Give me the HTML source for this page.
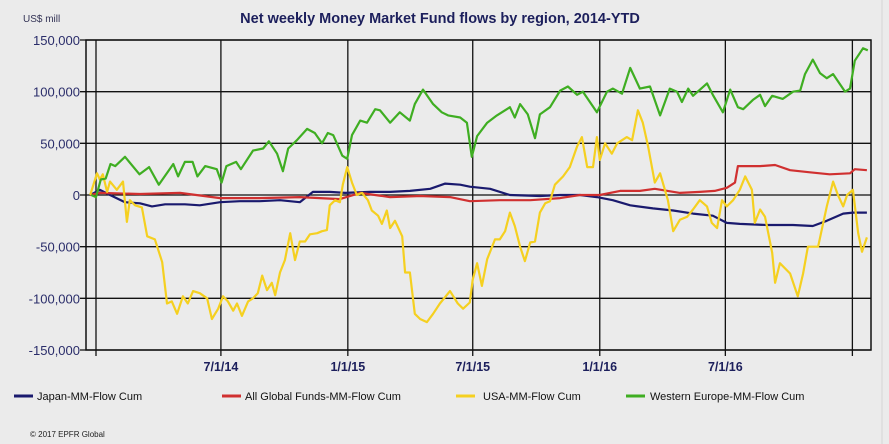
<!DOCTYPE html>
<html><head><meta charset="utf-8"><style>
html,body{margin:0;padding:0;background:#ebebeb;}
body{width:889px;height:444px;overflow:hidden;position:relative;font-family:"Liberation Sans",sans-serif;}
</style></head><body>
<svg id="chart" width="889" height="444" xmlns="http://www.w3.org/2000/svg" style="position:absolute;left:0;top:0">
<rect x="0" y="0" width="889" height="444" fill="#ebebeb"/>
<line x1="882" y1="0" x2="882" y2="444" stroke="#d6d6d6" stroke-width="1"/>
<text x="440" y="23" text-anchor="middle" font-size="14.5" font-weight="bold" fill="#1c1f5c">Net weekly Money Market Fund flows by region, 2014-YTD</text>
<text x="23" y="22" font-size="10" fill="#333355">US$ mill</text>
<g id="grid"></g>
<g id="series"></g>
<g id="axes"></g>
<g>
<g><line x1="14" y1="396" x2="33" y2="396" stroke="#1a1a6e" stroke-width="3"/><text x="37" y="400" font-size="11" fill="#111">Japan-MM-Flow Cum</text></g>
<g><line x1="222" y1="396" x2="241" y2="396" stroke="#d03030" stroke-width="3"/><text x="245" y="400" font-size="11" fill="#111">All Global Funds-MM-Flow Cum</text></g>
<g><line x1="456" y1="396" x2="475" y2="396" stroke="#f5d020" stroke-width="3"/><text x="483" y="400" font-size="11" fill="#111">USA-MM-Flow Cum</text></g>
<g><line x1="626" y1="396" x2="645" y2="396" stroke="#3fae22" stroke-width="3"/><text x="650" y="400" font-size="11" fill="#111">Western Europe-MM-Flow Cum</text></g>
</g>
<text x="30" y="437" font-size="8" fill="#222">© 2017 EPFR Global</text>
</svg>
<script>
const yTicks=[150000,100000,50000,0,-50000,-100000,-150000];
const yTickLabels=["150,000","100,000","50,000","0","-50,000","-100,000","-150,000"];
const xTickWeeks=[0,25.86,52.14,78.0,104.3,130.3,156.6];
const xTickLabels=["","7/1/14","1/1/15","7/1/15","1/1/16","7/1/16",""];

const greenWeeks=[-1,0,1,2,3,4,6,9,11,13,16,17,18.4,20,21,22.6,25,26,27,29,30,32.5,34.6,35.8,37.5,38.7,39.8,41.6,43.7,45.3,46.8,48,49.1,51,52,53,54.7,56.1,57.8,58.8,60.9,62.9,65,66,67.7,69.8,71.6,72.9,75.4,76.8,77.8,78.9,81,83,85.7,86.7,87.8,89.4,90.9,91.9,94,96.1,97.7,99.6,100.8,103.7,105.8,107,108.9,110.6,112.6,114.7,116.8,118.8,120.3,121.3,122.6,123.6,126.5,127.7,129.8,131.3,132.9,134,136,137.5,138.5,140,142.2,144.3,145.8,146.8,148.4,149.9,151.3,152.6,155.1,156.1,157.1,158.8,159.8];
const greenValues=[0,-2,15,16,30,28,37,20,27,10,30,18,32,32,18,28,25,12,28,32,25,43,45,52,40,23,45,53,64,60,50,60,58,38,35,58,72,70,83,82,70,80,72,88,102,88,80,77,75,70,37,57,70,77,85,75,88,78,55,78,85,101,105,97,100,80,100,103,98,123,103,105,77,103,100,90,103,96,108,97,80,102,85,83,92,97,86,96,93,100,101,117,131,118,113,117,100,103,130,142,140];

const yellowWeeks=[-1.2,0.2,0.8,1.4,2.3,2.9,4.3,5.6,6.4,7,8.1,9.5,10.6,12.2,13.7,14.7,15.7,16.8,18,19,20.1,21.5,23,24,25.3,26.3,27.3,28.4,29.2,30.2,31.5,32.5,33.5,34.4,35.4,36.4,37.1,38.1,39.1,40.2,41.2,42.2,43.3,44.3,45.8,46.8,47.8,48.4,49.5,50.5,51.1,52,53,54,55.1,56.3,57.1,58.4,59.2,60.2,60.9,61.9,63.4,64,65,66,67.1,68.5,69.8,71.2,73.3,74.9,76,77.4,78,78.9,79.9,81,81.6,82.6,83.6,84.7,85.7,86.7,87.8,88.8,89.9,90.9,91.9,93,94,95,96.7,98.1,99.6,100.6,101.7,102.9,103.7,104.3,105.4,106.8,107.9,109.9,111,112.2,113.2,114.3,115.7,116.8,118.4,119.5,120.9,122.4,123.6,125,126.5,127.5,128.6,129.6,130.6,131.9,133.3,134.4,135.8,136.4,137.5,138.5,140,140.6,141.6,143.7,145.3,146.4,147.4,149.5,151.3,152.6,153.6,154.7,155.5,156.7,157.8,158.6,159.6];
const yellowValues=[0,21,15,20,3,13,5,13,-26,-5,-10,-12,-40,-43,-65,-105,-103,-115,-98,-105,-93,-95,-100,-120,-110,-98,-103,-112,-105,-117,-103,-100,-95,-78,-92,-85,-97,-75,-63,-37,-63,-45,-45,-38,-37,-35,-34,-10,-5,-7,10,27,12,0,2,-5,-15,-20,-28,-15,-32,-25,-40,-75,-75,-115,-120,-123,-115,-105,-93,-105,-110,-104,-82,-66,-88,-62,-55,-43,-43,-35,-17,-30,-50,-64,-46,-45,-17,-8,-6,10,18,27,47,56,27,27,56,34,50,40,50,56,53,82,70,47,12,21,-5,-35,-24,-21,-14,-5,-11,-27,-32,-5,-11,-5,5,18,5,-27,-14,-21,-56,-85,-66,-76,-98,-76,-50,-50,-11,13,0,-11,0,5,-37,-55,-41];

const blueWeeks=[-1.2,0.8,2.9,6,9.1,11.6,14.3,18.4,21.5,25.7,29.8,33.9,38.1,42.2,44.9,48.4,51.6,56.7,60.9,65,69.2,72.3,75.4,77.4,81.6,85.7,91.9,96.1,100.2,103.7,107,110.6,115.3,119.5,123.6,127.7,130.6,133.3,138.9,144.3,148.4,151.3,154.7,156.7,159.6];
const blueValues=[0,5,0,-7,-8,-11,-9,-9,-10,-7,-6,-6,-5,-7,3,3,2,3,3,4,6,11,10,8,6,0,-1,0,0,-2,-5,-10,-13,-15,-18,-20,-27,-28,-29,-29,-30,-25,-18,-17,-17];

const redWeeks=[-1.2,0.8,9.1,17.4,25.7,33.9,42.2,50.5,54.7,60.9,67.1,73.3,77.4,83.6,89.9,96.1,100.2,104.3,108.5,112.6,115.7,120.9,125,128.1,130.6,132.3,132.9,137.5,140.6,143.7,147.8,151.9,156.1,157.1,159.6];
const redValues=[0,2,1,2,-3,-3,-2,-4,2,-2,-1,-2,-6,-5,-5,-3,0,0,4,4,6,2,3,4,7,12,28,28,29,24,22,20,21,25,24];

const NS="http://www.w3.org/2000/svg";
const X0=96, PXW=4.83, YTOP=40, YBOT=350, XL=86, XR=871;
function xs(w){return X0+w*PXW;}
function ys(v){return YBOT-(v+150000)/300000*(YBOT-YTOP);}
function mk(tag,attrs,parent){const e=document.createElementNS(NS,tag);for(const k in attrs)e.setAttribute(k,attrs[k]);parent.appendChild(e);return e;}
const grid=document.getElementById('grid'), axes=document.getElementById('axes'), series=document.getElementById('series');

yTicks.forEach((t,i)=>{
  const l=mk('line',{x1:XL-6,x2:XR,y1:ys(t),y2:ys(t),stroke:'#111','stroke-width':1.3},grid);
  
  
  const tx=mk('text',{x:80,y:ys(t)+5,'text-anchor':'end','font-size':13,fill:'#2a2d6a'},axes);
  tx.textContent=yTickLabels[i];
  
  
});
xTickWeeks.forEach((w,i)=>{
  const l=mk('line',{x1:xs(w),x2:xs(w),y1:YTOP,y2:YBOT+6,stroke:'#111','stroke-width':1.3},grid);
  
  
  if(xTickLabels[i]){
    const tx=mk('text',{x:xs(w),y:371,'text-anchor':'middle','font-size':12.5,'font-weight':'bold',fill:'#1c1f5c'},axes);
    tx.textContent=xTickLabels[i];
    
    
  }
});
const frame=mk('rect',{x:XL,y:YTOP,width:XR-XL,height:YBOT-YTOP,fill:'none',stroke:'#111','stroke-width':1.5},axes);



function line(weeks,vals,color,name){
  const d=weeks.map((w,i)=>(i?'L':'M')+xs(w).toFixed(1)+','+ys(vals[i]*1000).toFixed(1)).join(' ');
  const p=mk('path',{d:d,fill:'none',stroke:color,'stroke-width':2.2,'stroke-linejoin':'round'},series);
  
  
}
line(blueWeeks,blueValues,'#1a1a6e','japan-line');
line(redWeeks,redValues,'#d03030','all-global-line');
line(yellowWeeks,yellowValues,'#f5d020','usa-line');
line(greenWeeks,greenValues,'#3fae22','western-europe-line');
</script>
</body></html>
